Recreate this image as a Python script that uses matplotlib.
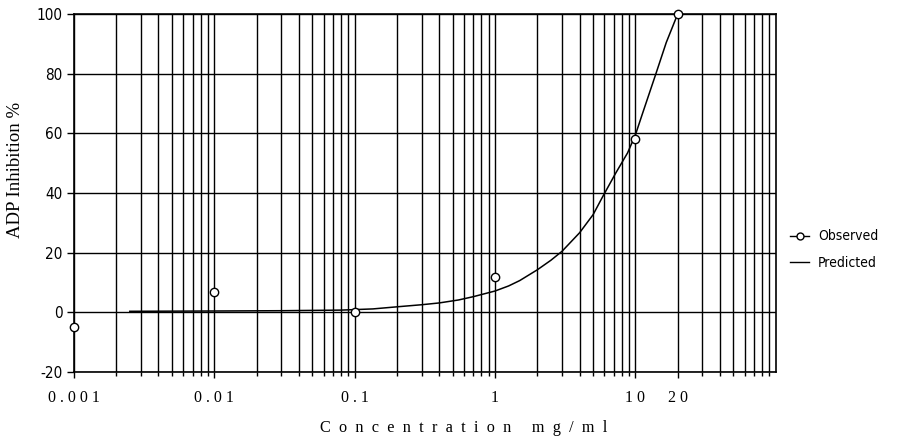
import numpy as np
import matplotlib
matplotlib.use("Agg")
import matplotlib.pyplot as plt
from matplotlib.lines import Line2D
from matplotlib.ticker import LogLocator, NullFormatter, FixedLocator

plt.rcParams['axes.unicode_minus'] = False

# observed points
obs_conc = [0.001, 0.01, 0.1, 1, 10, 20]
obs_inhib = [-5, 7, 0, 12, 58, 100]

# predicted curve
pred_conc = [0.0025, 0.01, 0.03, 0.08, 0.135, 0.2, 0.3, 0.4, 0.55, 0.7, 1.0,
             1.25, 1.5, 2.0, 2.5, 3.0, 4.0, 5.0, 5.8, 7.2, 8.8, 10, 11.3, 14, 16.6, 20]
pred_inhib = [0.4, 0.5, 0.6, 0.8, 1.2, 1.9, 2.6, 3.2, 4.2, 5.3, 7.2,
              8.9, 10.7, 14.3, 17.5, 20.5, 26.7, 32.8, 38.5, 46.5, 53.5, 59.5, 67, 80, 90.5, 100]

xtick_vals = [0.001, 0.01, 0.1, 1, 10, 20]
xtick_labels = ["0.001", "0.01", "0.1", "1", "10", "20"]
ytick_vals = [-20, 0, 20, 40, 60, 80, 100]

serif = ['Liberation Serif', 'DejaVu Serif']
narrow = ['DejaVu Sans']


def spaced(s, gap=" "):
    return gap.join(s)


fig = plt.figure(figsize=(9.02, 4.42), dpi=100)
ax = fig.add_axes([0.082, 0.158, 0.778, 0.810])

ax.set_xscale('log')
ax.set_xlim(0.001, 100)
ax.set_ylim(-20, 100)

# grid: every minor decade step, every 20 %
ax.xaxis.set_minor_locator(LogLocator(base=10, subs=np.arange(2, 10)))
ax.xaxis.set_minor_formatter(NullFormatter())
ax.xaxis.set_major_locator(FixedLocator(xtick_vals))
ax.set_xticklabels([spaced(t) for t in xtick_labels], family=serif, fontsize=11.5)
ax.set_yticks(ytick_vals)
for lbl in ax.get_yticklabels():
    lbl.set_family(narrow)
    lbl.set_stretch('condensed')
    lbl.set_fontsize(11)

ax.grid(True, which='both', axis='x', color='black', lw=1.0)
ax.grid(True, which='major', axis='y', color='black', lw=1.0)
ax.set_axisbelow(True)

ax.tick_params(axis='x', which='major', length=4, width=1, pad=9)
ax.tick_params(axis='x', which='minor', length=3, width=1)
ax.tick_params(axis='y', length=5, width=1, pad=3)
for sp in ax.spines.values():
    sp.set_linewidth(1.2)

ax.plot(pred_conc, pred_inhib, color='black', lw=1.1, zorder=3)
ax.plot(obs_conc, obs_inhib, ls='none', marker='o', ms=6, mfc='white',
        mec='black', mew=1.0, zorder=4, clip_on=False)

ax.set_xlabel(spaced("Concentration", "  ") + "     " + spaced("mg/ml", "  "),
              family=serif, fontsize=11.7, labelpad=10)
ax.xaxis.label.set_x(0.555)
ax.set_ylabel("ADP Inhibition %", family=serif, fontsize=13.5, labelpad=9)
ax.yaxis.label.set_y(0.565)

handles = [
    Line2D([], [], color='black', lw=1, marker='o', ms=5, mfc='white', mec='black'),
    Line2D([], [], color='black', lw=1),
]
fig.legend(handles, ["Observed", "Predicted"], loc='center left',
           bbox_to_anchor=(0.862, 0.435), frameon=False, handlelength=1.4,
           handletextpad=0.6, labelspacing=0.9,
           prop={'family': narrow, 'stretch': 'condensed', 'size': 10})

fig.savefig("out.png", dpi=100)
